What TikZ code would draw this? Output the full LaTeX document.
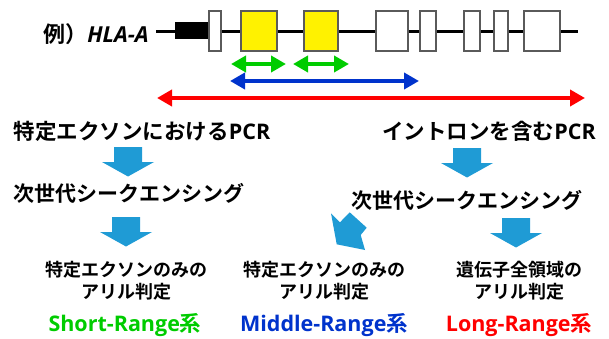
\documentclass[tikz,border=0pt]{standalone}
\usepackage{fontspec}
\setmainfont{Noto Sans CJK JP}[BoldFont={* Bold}]
\newfontfamily\latn{Open Sans}[BoldFont={* Bold}, BoldItalicFont={* Bold Italic}]
\usetikzlibrary{arrows.meta}
\definecolor{arrowblue}{RGB}{31,155,213}
\definecolor{rgreen}{RGB}{0,204,0}
\definecolor{rblue}{RGB}{0,51,204}
\definecolor{rred}{RGB}{255,0,0}
\definecolor{boxgray}{RGB}{90,90,90}
\tikzset{
  exon/.style={draw=boxgray, line width=1.2pt, fill=white},
  cexon/.style={exon, fill=yellow},
  spanarrow/.style={line width=4pt, {Triangle[length=15pt,width=16pt]}-{Triangle[length=15pt,width=16pt]}},
  headtxt/.style={font=\bfseries\fontsize{21.5}{24}\selectfont, inner sep=0pt},
  seqtxt/.style={font=\bfseries\fontsize{21}{24}\selectfont, inner sep=0pt},
  restxt/.style={font=\bfseries\fontsize{18}{22}\selectfont, align=center, inner sep=0pt},
  kindtxt/.style={font=\bfseries\fontsize{21.5}{24}\selectfont, inner sep=0pt},
  pics/downarrow/.style={code={
    \fill[arrowblue] (-14,0) -- (14,0) -- (14,15) -- (26,15) -- (0,29.5)
      -- (-26,15) -- (-14,15) -- cycle;}}
}
\begin{document}
\begin{tikzpicture}[x=1pt, y=-1pt]
\useasboundingbox (0,0) rectangle (609,339);

% gene model
\coordinate (gstart) at (156,31.5);
\coordinate (gend) at (578,31.5);
\draw[line width=2.6pt] (gstart) -- (gend);
\fill (175,22) rectangle (208,39);
\draw[exon] (209,11) rectangle (221,51);
\draw[cexon] (241,11) rectangle (277,51);
\draw[cexon] (304,11) rectangle (338,51);
\draw[exon] (376,11) rectangle (408,51);
\draw[exon] (420,11) rectangle (436,51);
\draw[exon] (464,11) rectangle (480,51);
\draw[exon] (494,11) rectangle (508,51);
\draw[exon] (524,11) rectangle (560,51);
\node[anchor=east, inner sep=0pt, font=\bfseries\fontsize{22}{26}\selectfont] (hla) at (149,34)
  {例）{\latn\itshape HLA-A}};

% amplified ranges
\coordinate (s1a) at (231,64);  \coordinate (s1b) at (286,64);
\coordinate (s2a) at (293,64);  \coordinate (s2b) at (349,64);
\coordinate (ma) at (230,81);   \coordinate (mb) at (419,81);
\coordinate (la) at (157,98);   \coordinate (lb) at (585,98);
\draw[spanarrow, rgreen] (s1a) -- (s1b);
\draw[spanarrow, rgreen] (s2a) -- (s2b);
\draw[spanarrow, rblue] (ma) -- (mb);
\draw[spanarrow, rred] (la) -- (lb);

% workflow text
\node[headtxt] (pcr1) at (142,131) {特定エクソンにおける{\latn PCR}};
\node[headtxt] (pcr2) at (489,131) {イントロンを含む{\latn PCR}};
\node[seqtxt] (ngs1) at (129,193) {次世代シークエンシング};
\node[seqtxt] (ngs2) at (467,200) {次世代シークエンシング};
\node[restxt] (res1) at (126,281) {特定エクソンのみの\\アリル判定};
\node[restxt] (res2) at (324,281) {特定エクソンのみの\\アリル判定};
\node[restxt] (res3) at (519,281) {遺伝子全領域の\\アリル判定};
\node[kindtxt, text=rgreen] (sr) at (125,325) {{\latn Short-Range}系};
\node[kindtxt, text=rblue] (mr) at (324,325) {{\latn Middle-Range}系};
\node[kindtxt, text=rred] (lr) at (519,325) {{\latn Long-Range}系};

% block arrows
\pic at (128,147) {downarrow};
\pic at (126,217) {downarrow};
\pic at (467,148) {downarrow};
\pic at (516,218) {downarrow};
\fill[arrowblue] (349.7,212.3) -- (366.7,227.7) -- (360.7,235) -- (365,250)
  -- (336.7,244.3) -- (331,213.3) -- (340,222.3) -- cycle;
\end{tikzpicture}
\end{document}
